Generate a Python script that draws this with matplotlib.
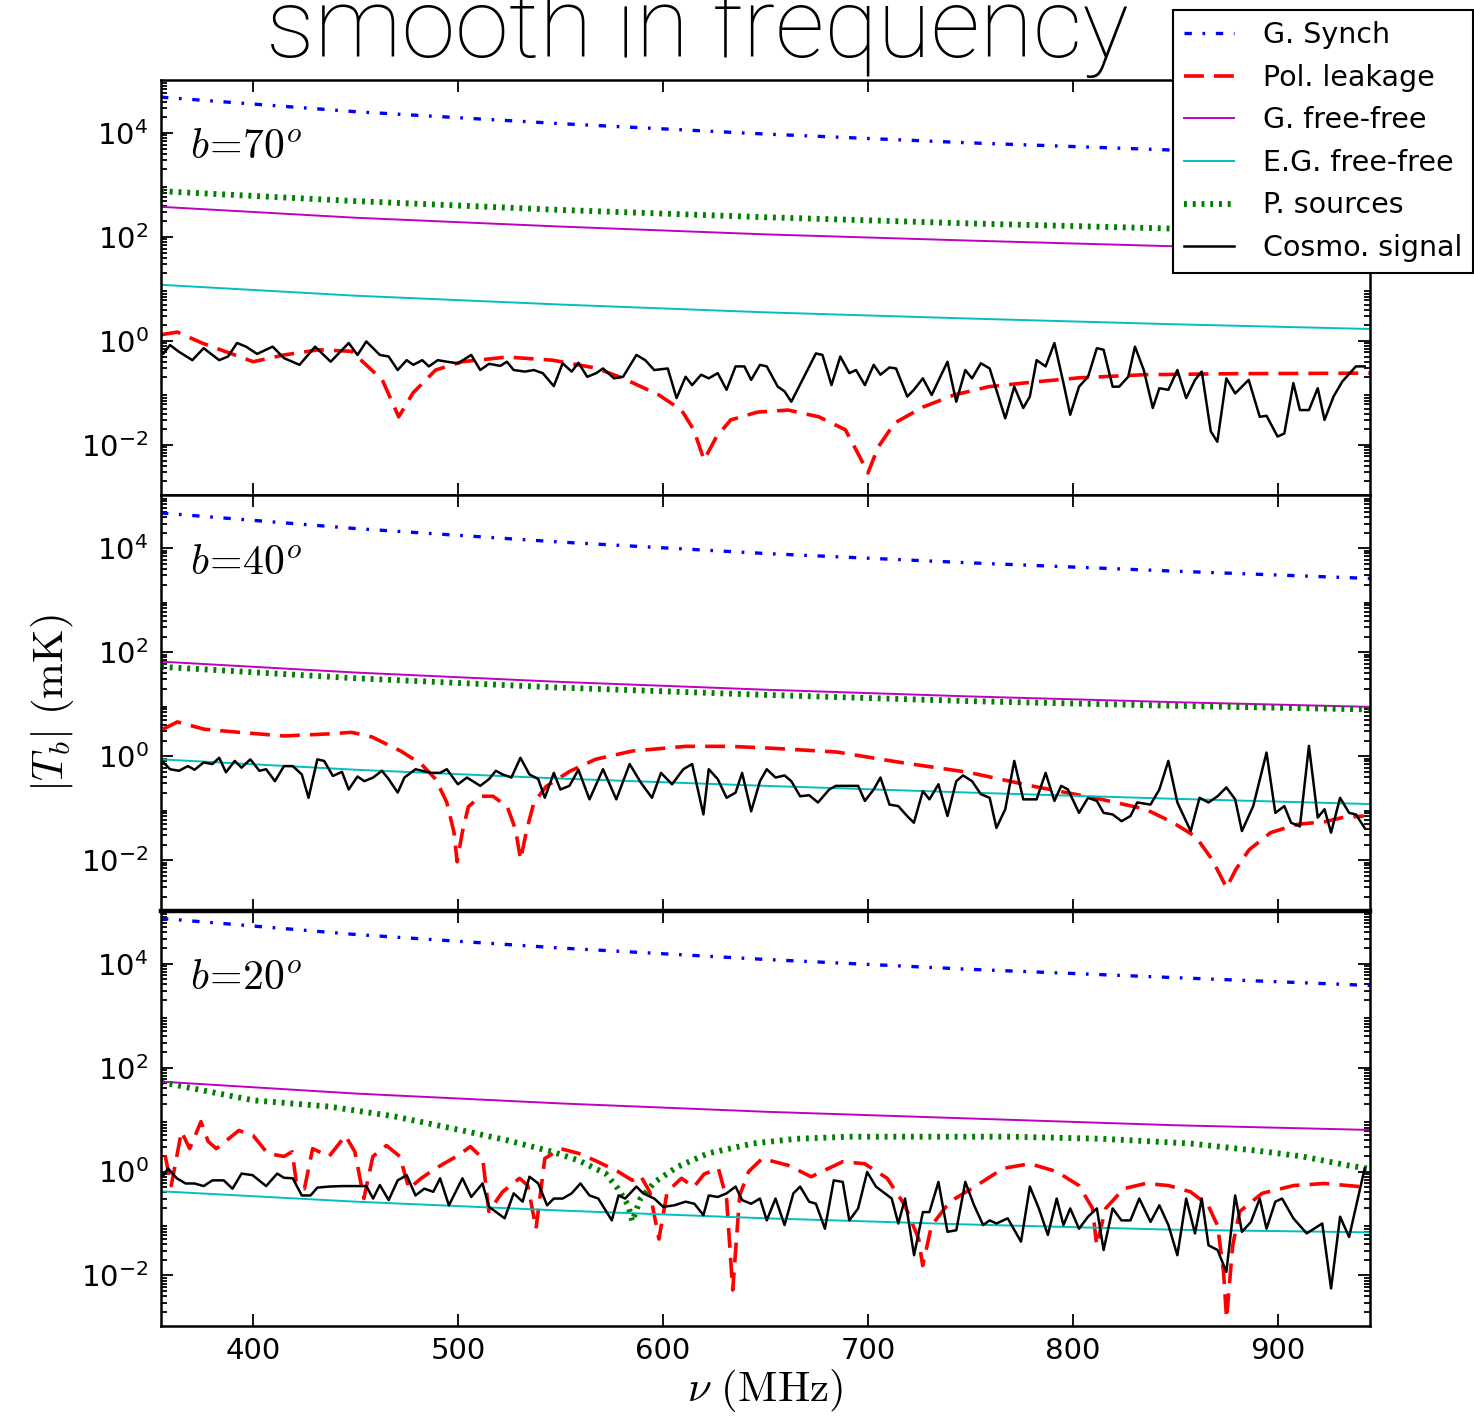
import numpy as np
import matplotlib
matplotlib.use("Agg")
import matplotlib.pyplot as plt
from matplotlib.ticker import FixedLocator, LogLocator, NullFormatter

plt.rcParams["mathtext.fontset"] = "cm"
plt.rcParams["font.family"] = ["DejaVu Sans"]

# frequencies (MHz) for the smooth foreground components
nu_smooth = [355, 450, 550, 650, 750, 850, 945]

# --- b = 70 deg (values are log10 of |T_b| in mK) ---
synch70_log = [4.69, 4.41, 4.18, 3.98, 3.81, 3.67, 3.54]
ps70_log = [2.88, 2.69, 2.52, 2.38, 2.26, 2.16, 2.07]
gff70_log = [2.58, 2.37, 2.20, 2.05, 1.93, 1.82, 1.73]
egff70_log = [1.08, 0.87, 0.70, 0.55, 0.43, 0.32, 0.23]

pol70_nu = [355, 363, 375, 400, 415, 432, 448, 463, 471, 478, 489, 502, 524, 546, 567,
            580, 598, 609, 615, 620, 626, 633, 646, 661, 676, 689, 696, 700, 705, 713,
            727, 742, 759, 781, 803, 835, 879, 945]
pol70_log = [0.12, 0.17, -0.04, -0.40, -0.27, -0.17, -0.20, -0.75, -1.46, -1.00, -0.56,
             -0.40, -0.31, -0.37, -0.52, -0.71, -1.04, -1.33, -1.71, -2.29, -1.85, -1.52,
             -1.37, -1.33, -1.46, -1.71, -2.23, -2.54, -2.04, -1.58, -1.27, -1.04, -0.88,
             -0.79, -0.71, -0.65, -0.63, -0.62]

cosmo70_nu = [356.2, 359.4, 363.8, 370.3, 375.8, 383.4, 387.7, 392.1, 396.5, 401.9, 409.5,
              415.0, 422.6, 430.2, 437.8, 446.6, 450.9, 455.2, 461.8, 466.1, 470.5, 474.9,
              478.1, 482.5, 485.7, 490.1, 494.5, 499.9, 506.4, 510.8, 515.1, 520.6, 523.8,
              527.1, 532.6, 536.9, 541.3, 546.7, 551.0, 555.4, 558.7, 563.0, 567.4, 570.7,
              576.1, 580.5, 587.0, 591.3, 595.7, 602.3, 606.6, 611.0, 614.2, 618.6, 622.3,
              626.7, 631.0, 635.4, 639.7, 643.0, 647.3, 650.6, 656.0, 659.3, 662.6, 668.0,
              674.6, 677.8, 682.2, 686.5, 690.9, 694.2, 698.5, 702.8, 706.1, 710.5, 713.7,
              719.2, 722.4, 726.8, 731.1, 738.8, 743.1, 747.5, 750.8, 755.1, 759.4, 767.0,
              771.4, 775.8, 779.0, 782.3, 786.7, 791.0, 795.4, 798.7, 803.0, 807.4, 811.7,
              815.0, 819.4, 822.6, 827.0, 830.3, 834.6, 839.0, 842.2, 846.6, 851.0, 855.3,
              859.6, 862.9, 867.3, 870.5, 874.9, 879.2, 885.8, 891.2, 894.5, 899.9, 903.2,
              907.6, 910.8, 915.2, 919.5, 922.8, 927.2, 931.5, 938.1, 942.4]
cosmo70_log = [-0.24, -0.08, -0.21, -0.37, -0.14, -0.37, -0.30, -0.04, -0.11, -0.25, -0.11,
               -0.33, -0.46, -0.11, -0.40, -0.04, -0.27, -0.01, -0.27, -0.30, -0.56, -0.37,
               -0.46, -0.37, -0.49, -0.37, -0.40, -0.43, -0.27, -0.56, -0.44, -0.48, -0.40,
               -0.56, -0.59, -0.56, -0.62, -0.87, -0.43, -0.59, -0.42, -0.69, -0.62, -0.53,
               -0.72, -0.69, -0.27, -0.37, -0.56, -0.53, -1.10, -0.69, -0.85, -0.65, -0.72,
               -0.62, -0.94, -0.49, -0.49, -0.75, -0.46, -0.49, -0.88, -0.97, -1.17, -0.75,
               -0.24, -0.27, -0.85, -0.30, -0.62, -0.56, -0.85, -0.46, -0.65, -0.51, -0.53,
               -1.07, -0.94, -0.72, -1.04, -0.40, -1.17, -0.56, -0.72, -0.43, -0.53, -1.49,
               -0.88, -1.29, -1.07, -0.37, -0.49, -0.04, -0.81, -1.42, -0.88, -0.69, -0.14,
               -0.17, -0.88, -0.88, -0.69, -0.11, -0.56, -1.29, -0.91, -0.94, -0.56, -1.10,
               -0.75, -0.59, -1.74, -1.94, -0.72, -1.01, -0.75, -1.46, -1.44, -1.84, -1.78,
               -0.81, -1.33, -1.33, -0.91, -1.52, -1.07, -0.78, -0.49, -0.49]

# --- b = 40 deg ---
synch40_log = [4.68, 4.38, 4.12, 3.90, 3.72, 3.56, 3.42]
ps40_log = [1.72, 1.50, 1.32, 1.18, 1.06, 0.97, 0.90]
gff40_log = [1.82, 1.61, 1.43, 1.28, 1.15, 1.04, 0.95]
egff40_log = [-0.06, -0.26, -0.43, -0.57, -0.70, -0.82, -0.92]

pol40_nu = [356, 363, 376, 393, 415, 437, 448, 458, 472, 482, 489, 494.5, 498, 499.5, 502,
            505, 511, 517, 524, 528, 530.5, 533.5, 537, 543, 554.5, 567, 585, 611, 633, 655,
            685, 716, 749, 781, 814, 835.5, 849, 860, 868, 875, 879.5, 886, 896.5, 909.5,
            923, 931.5, 942]
pol40_log = [0.52, 0.66, 0.52, 0.46, 0.39, 0.43, 0.46, 0.37, 0.10, -0.15, -0.44, -0.89,
             -1.47, -2.03, -1.47, -0.97, -0.77, -0.77, -0.97, -1.41, -1.99, -1.41, -0.89,
             -0.58, -0.29, -0.06, 0.10, 0.19, 0.19, 0.15, 0.08, -0.12, -0.31, -0.58, -0.83,
             -1.02, -1.28, -1.55, -1.99, -2.53, -2.18, -1.80, -1.47, -1.31, -1.26, -1.18,
             -1.15]

cosmo40_nu = [356.2, 359.4, 363.8, 368.1, 371.4, 375.8, 380.1, 383.4, 386.7, 391.0, 394.3,
              398.6, 403.0, 406.3, 410.6, 415.0, 419.3, 423.7, 427.0, 431.3, 434.6, 438.9,
              443.3, 446.6, 450.9, 454.2, 458.5, 462.8, 466.1, 470.5, 473.8, 479.2, 482.5,
              486.8, 491.2, 494.5, 499.9, 504.3, 510.8, 515.1, 518.4, 521.7, 526.0, 530.4,
              534.8, 539.1, 542.3, 546.7, 549.9, 554.3, 558.7, 564.1, 570.7, 577.2, 583.7,
              589.2, 594.6, 599.0, 604.4, 609.9, 614.2, 619.7, 622.3, 626.7, 631.0, 635.4,
              638.6, 643.0, 647.3, 650.6, 654.9, 659.3, 662.6, 666.9, 671.3, 675.6, 681.1,
              684.3, 689.7, 695.2, 698.5, 702.8, 706.1, 710.5, 714.8, 719.1, 722.4, 726.8,
              730.0, 734.4, 738.8, 743.1, 746.4, 750.8, 755.1, 759.4, 762.7, 767.0, 771.4,
              775.8, 782.3, 786.7, 791.0, 794.3, 797.6, 803.0, 807.4, 811.7, 815.0, 819.4,
              823.8, 828.1, 831.4, 837.9, 842.2, 846.6, 851.0, 857.5, 861.8, 866.2, 870.6,
              874.9, 879.2, 882.5, 888.0, 894.5, 898.8, 903.2, 906.5, 910.8, 915.2, 919.5,
              922.8, 926.0, 930.4, 934.8, 938.1, 942.4]
cosmo40_log = [-0.12, -0.25, -0.28, -0.19, -0.26, -0.12, -0.15, -0.03, -0.31, -0.09, -0.22,
               -0.06, -0.28, -0.25, -0.48, -0.19, -0.19, -0.35, -0.80, -0.06, -0.09, -0.38,
               -0.30, -0.64, -0.39, -0.48, -0.41, -0.28, -0.44, -0.70, -0.41, -0.25, -0.28,
               -0.32, -0.32, -0.25, -0.54, -0.41, -0.57, -0.44, -0.28, -0.35, -0.41, -0.03,
               -0.35, -0.44, -0.80, -0.32, -0.64, -0.57, -0.26, -0.83, -0.25, -0.83, -0.15,
               -0.51, -0.80, -0.32, -0.54, -0.25, -0.15, -1.12, -0.25, -0.44, -0.80, -0.70,
               -0.32, -1.06, -0.48, -0.25, -0.41, -0.37, -0.48, -0.77, -0.75, -0.89, -0.64,
               -0.57, -0.57, -0.57, -0.86, -0.64, -0.41, -0.93, -0.96, -1.15, -1.28, -0.67,
               -0.83, -0.54, -1.15, -0.48, -0.37, -0.48, -0.73, -0.80, -1.38, -1.02, -0.09,
               -0.83, -0.83, -0.32, -0.86, -0.57, -0.64, -1.09, -0.80, -0.86, -1.09, -1.12,
               -1.25, -1.15, -0.89, -0.93, -0.64, -0.09, -0.89, -1.44, -0.80, -0.89, -0.77,
               -0.60, -0.83, -1.44, -0.96, 0.07, -1.09, -0.96, -1.28, -1.35, 0.20, -1.18,
               -1.02, -1.47, -0.80, -1.09, -1.12, -1.38]

# --- b = 20 deg ---
synch20_log = [4.87, 4.56, 4.30, 4.08, 3.89, 3.73, 3.58]
gff20_log = [1.73, 1.50, 1.31, 1.15, 1.02, 0.89, 0.80]
egff20_log = [-0.38, -0.58, -0.75, -0.90, -1.02, -1.12, -1.17]

ps20_nu = [355, 400, 437, 469, 502, 524, 546, 559, 572, 578, 583, 585, 589, 596, 607, 622,
           644, 665, 691, 727, 770, 814, 857, 890, 912, 934, 945]
ps20_log = [1.72, 1.37, 1.25, 1.06, 0.79, 0.60, 0.38, 0.21, -0.04, -0.33, -0.65, -0.96,
            -0.52, -0.20, 0.09, 0.35, 0.54, 0.63, 0.67, 0.67, 0.67, 0.63, 0.54, 0.40, 0.29,
            0.12, 0.05]

pol20_nu = [357, 360, 365, 369, 374.5, 378, 382, 393, 400, 407, 415, 419, 421, 425, 429, 437,
            445, 449.6, 454, 458.4, 465, 471.6, 476, 482, 489, 500, 506, 512, 515, 521.7,
            530, 534, 538, 542.3, 550, 558.7, 567, 578, 585, 589, 593.5, 598, 602, 609, 615,
            620, 627, 631, 634, 637.4, 641.8, 648.4, 661, 672.3, 687.7, 698.4, 709.4, 718,
            724.7, 726.7, 731, 740, 753, 766, 779, 792, 803, 809.6, 811.6, 816, 824.8,
            835.5, 846.7, 857.4, 866, 870.6, 873.5, 875, 878, 881.4, 892.3, 907.7, 922.8,
            940, 945]
pol20_log = [0.31, -0.27, 0.77, 0.44, 0.96, 0.58, 0.44, 0.79, 0.69, 0.35, 0.29, 0.38, -0.19,
             -0.33, 0.44, 0.29, 0.69, 0.38, -0.52, 0.29, 0.50, 0.29, -0.33, -0.13, 0.06,
             0.31, 0.48, 0.25, -0.77, -0.39, -0.13, -0.27, -1.10, 0.25, 0.44, 0.35, 0.21,
             0.00, -0.17, -0.08, -0.39, -1.30, -0.39, -0.13, -0.30, -0.05, 0.06, -0.52,
             -2.28, -0.46, 0.00, 0.25, 0.12, -0.10, 0.19, 0.15, -0.13, -0.65, -1.29, -1.81,
             -1.04, -0.58, -0.27, 0.06, 0.15, 0.00, -0.27, -0.71, -1.42, -0.71, -0.33,
             -0.23, -0.27, -0.39, -0.65, -1.04, -1.92, -2.83, -1.42, -0.77, -0.42, -0.27,
             -0.23, -0.29, -0.30]

cosmo20_nu = [356.2, 358.4, 362.7, 367.0, 371.4, 375.8, 380.1, 385.6, 389.9, 394.3, 399.7,
              406.3, 411.7, 415.0, 419.3, 423.7, 428.0, 431.3, 436.7, 443.3, 449.8, 455.2,
              458.5, 461.8, 466.1, 470.5, 474.9, 479.2, 483.5, 487.9, 491.2, 495.5, 502.1,
              506.4, 511.9, 515.1, 522.7, 527.1, 531.5, 534.8, 539.1, 543.4, 546.7, 551.0,
              555.4, 559.7, 564.1, 568.4, 575.0, 578.3, 581.5, 587.0, 590.3, 595.7, 600.1,
              605.5, 611.0, 615.3, 619.7, 622.3, 626.7, 631.0, 635.4, 638.6, 643.0, 647.3,
              650.6, 654.9, 659.3, 663.6, 666.9, 671.3, 674.6, 679.0, 683.3, 687.7, 690.9,
              695.2, 699.6, 703.9, 711.6, 714.8, 718.1, 722.5, 726.8, 730.0, 734.4, 738.8,
              743.1, 747.5, 751.8, 756.2, 759.4, 762.7, 768.2, 774.7, 779.0, 783.4, 787.8,
              792.1, 795.4, 798.7, 803.0, 807.4, 811.7, 815.0, 819.4, 823.7, 828.1, 832.4,
              837.9, 842.2, 846.6, 851.0, 855.3, 859.6, 862.9, 866.2, 870.6, 874.9, 879.2,
              882.5, 886.9, 891.2, 894.5, 898.8, 902.1, 907.6, 914.1, 921.7, 926.0, 930.4,
              934.8, 942.4]
cosmo20_log = [-0.07, 0.06, -0.13, -0.23, -0.23, -0.28, -0.17, -0.17, -0.33, -0.04, -0.07,
               -0.28, -0.04, -0.12, -0.13, -0.46, -0.46, -0.31, -0.29, -0.28, -0.28, -0.28,
               -0.52, -0.26, -0.55, -0.17, -0.07, -0.46, -0.33, -0.39, -0.13, -0.65, -0.13,
               -0.49, -0.23, -0.68, -0.90, -0.42, -0.58, -0.10, -0.23, -0.65, -0.52, -0.52,
               -0.42, -0.23, -0.46, -0.52, -0.94, -0.46, -0.52, -0.29, -0.42, -0.52, -0.68,
               -0.65, -0.58, -0.62, -0.84, -0.46, -0.49, -0.42, -0.29, -0.55, -0.62, -0.52,
               -0.94, -0.52, -1.03, -0.42, -0.29, -0.58, -0.62, -1.10, -0.17, -0.20, -0.94,
               -0.71, -0.01, -0.29, -0.52, -1.00, -0.52, -1.61, -0.78, -0.78, -0.20, -1.16,
               -1.13, -0.20, -0.65, -1.03, -0.94, -1.00, -0.90, -1.35, -0.29, -0.71, -1.22,
               -0.52, -1.03, -0.71, -1.10, -0.87, -0.71, -1.51, -0.71, -0.94, -0.94, -0.52,
               -0.97, -0.65, -1.03, -1.61, -0.52, -1.19, -0.52, -1.42, -1.51, -1.93, -0.46,
               -1.16, -0.97, -0.52, -1.10, -0.58, -0.52, -0.90, -1.19, -1.00, -2.25, -0.87,
               -1.26, 0.06]

panels = [
    ("$b\\!=\\!70^o$", synch70_log, pol70_nu, pol70_log, gff70_log, egff70_log,
     nu_smooth, ps70_log, cosmo70_nu, cosmo70_log),
    ("$b\\!=\\!40^o$", synch40_log, pol40_nu, pol40_log, gff40_log, egff40_log,
     nu_smooth, ps40_log, cosmo40_nu, cosmo40_log),
    ("$b\\!=\\!20^o$", synch20_log, pol20_nu, pol20_log, gff20_log, egff20_log,
     ps20_nu, ps20_log, cosmo20_nu, cosmo20_log),
]

labels = ["G. Synch", "Pol. leakage", "G. free-free", "E.G. free-free",
          "P. sources", "Cosmo. signal"]


def t(vals):
    return 10 ** np.asarray(vals)


fig = plt.figure(figsize=(14.74, 14.17), dpi=100)

left, width = 161 / 1474, 1209 / 1474
top_px, panel_px = 80, 415.3
axes = []
for i, (lab, syn, pnu, pol, gff, egff, psnu, ps, cnu, cos) in enumerate(panels):
    y0 = 1 - (top_px + (i + 1) * panel_px) / 1417
    ax = fig.add_axes([left, y0, width, panel_px / 1417])
    axes.append(ax)
    h = []
    h += ax.plot(nu_smooth, t(syn), color="#0000ff", lw=2.4, dashes=(2.2, 3.2, 0.8, 3.2))
    h += ax.plot(pnu, t(pol), color="#ff0000", lw=2.6, dashes=(5.5, 2.8))
    h += ax.plot(nu_smooth, t(gff), color="#bf00bf", lw=1.4)
    h += ax.plot(nu_smooth, t(egff), color="#00bfbf", lw=1.4)
    h += ax.plot(psnu, t(ps), color="#008000", lw=4.2, dashes=(0.5, 1.0))
    h += ax.plot(cnu, t(cos), color="black", lw=1.8)
    if i == 0:
        handles = h

    ax.set_yscale("log")
    ax.set_xlim(355, 945)
    ax.set_ylim(10 ** -2.97, 10 ** 5.02)
    ax.yaxis.set_major_locator(FixedLocator([1e-2, 1e0, 1e2, 1e4]))
    ax.set_yticklabels(["$\\mathdefault{10^{-2}}$", "$\\mathdefault{10^{0}}$",
                        "$\\mathdefault{10^{2}}$", "$\\mathdefault{10^{4}}$"])
    ax.yaxis.set_minor_locator(LogLocator(base=10, subs=np.arange(2, 10), numticks=100))
    ax.yaxis.set_minor_formatter(NullFormatter())
    ax.set_xticks([400, 500, 600, 700, 800, 900])
    ax.tick_params(which="both", direction="in", top=True, right=True, width=1.3)
    ax.tick_params(which="major", length=8.5, labelsize=21)
    ax.tick_params(which="minor", length=4.5)
    ax.tick_params(axis="x", pad=8)
    ax.tick_params(axis="y", pad=9)
    if i < 2:
        ax.tick_params(axis="x", labelbottom=False)
    for s in ax.spines.values():
        s.set_linewidth(1.8)
    ax.text(0.024, 0.84, lab, transform=ax.transAxes, fontsize=30, va="center", ha="left")

axes[2].spines["top"].set_linewidth(3.2)

fig.text(52 / 1474, 1 - 703 / 1417, "$|T_b|\\ \\mathrm{(mK)}$", rotation=90,
         ha="center", va="center", fontsize=31)
fig.text(765 / 1474, 1 - 1390 / 1417, "$\\nu\\ \\mathrm{(MHz)}$",
         ha="center", va="center", fontsize=31)

# heading runs off the top edge, as in the source slide
fig.text(697 / 1474, 1 - 57 / 1417, "smooth in frequency", ha="center", va="baseline",
         fontsize=70, family=["Roboto", "DejaVu Sans"], fontweight="light")

leg = fig.legend(handles, labels, loc="upper left", bbox_to_anchor=(1173 / 1474, 1 - 10 / 1417),
                 borderaxespad=0, fontsize=20.5, handlelength=1.75, handletextpad=1.0,
                 labelspacing=0.51, borderpad=0.4, fancybox=False, framealpha=1)
leg.get_frame().set_edgecolor("black")
leg.get_frame().set_linewidth(1.5)

fig.savefig("out.png", dpi=100)
